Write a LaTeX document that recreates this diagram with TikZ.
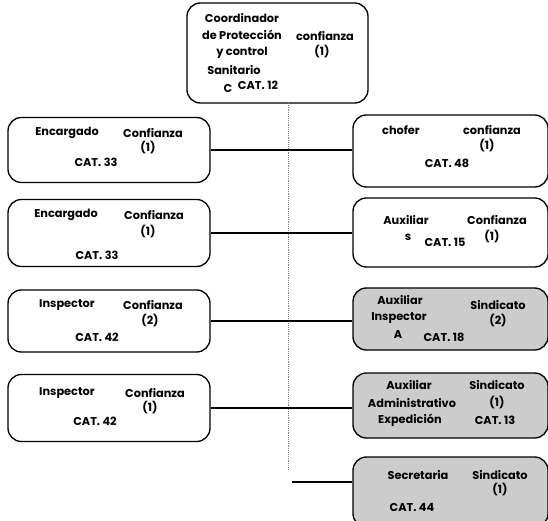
\documentclass[tikz,border=0pt]{standalone}
\usepackage{fontspec}
\setmainfont{Poppins}

\tikzset{
	puesto/.style={draw, line width=1pt, rounded corners=10pt, inner sep=0pt},
	sindical/.style={puesto, fill=black!20},
	txt/.style={font=\fontsize{8.5}{12.5}\selectfont\bfseries, inner sep=0pt, align=center},
	enlace/.style={line width=0.8pt},
	guia/.style={densely dotted, gray, thin}
}

\begin{document}
\begin{tikzpicture}[x=0.75pt, y=-0.75pt]
	\useasboundingbox (0,0) rectangle (548,520);

	% recuadros
	\node (jefe) [puesto, minimum width=135.75pt, minimum height=75pt] at (277.5,53) {};

	\node (enc1) [puesto, minimum width=151.5pt, minimum height=48.75pt] at (109,150) {};
	\node (enc2) [puesto, minimum width=151.5pt, minimum height=50.25pt] at (109,233) {};
	\node (insp1) [puesto, minimum width=151.5pt, minimum height=46.5pt] at (109,321) {};
	\node (insp2) [puesto, minimum width=151.5pt, minimum height=50.25pt] at (109,408) {};

	\node (chofer) [puesto, minimum width=146.25pt, minimum height=54pt] at (450.5,151) {};
	\node (aux) [puesto, minimum width=146.25pt, minimum height=51.75pt] at (450.5,232.5) {};
	\node (auxinsp) [sindical, minimum width=146.25pt, minimum height=46.5pt] at (450.5,319) {};
	\node (auxadm) [sindical, minimum width=146.25pt, minimum height=48.75pt] at (450.5,405.5) {};
	\node (secre) [sindical, minimum width=146.25pt, minimum height=52.5pt] at (450.5,492) {};

	% lineas
	\coordinate (eje) at (288,103);
	\coordinate (fin) at (288,470);
	\coordinate (e5) at (292,482);
	\draw[guia] (eje) -- (fin);

	\draw[enlace] (enc1.east) -- (enc1.east -| chofer.west);
	\draw[enlace] (enc2.east) -- (enc2.east -| aux.west);
	\draw[enlace] (insp1.east) -- (insp1.east -| auxinsp.west);
	\draw[enlace] (insp2.east) -- (insp2.east -| auxadm.west);
	\draw[enlace] (e5) -- (e5 -| secre.west);

	% textos
	\path[txt] (242,36) node {Coordinador\\de Protección\\y control}
		(234,70) node {Sanitario}
		(228,89) node {C}
		(258,85) node {CAT. 12}
		(325,36) node {confianza}
		(322,52) node {(1)};

	\path[txt] (67,133) node {Encargado} (153,133) node {Confianza}
		(148,148) node {(1)} (96,162) node {CAT. 33};
	\path[txt] (66,215) node {Encargado} (154,215) node {Confianza}
		(148,232) node {(1)} (97,255) node {CAT. 33};
	\path[txt] (67,305) node {Inspector} (153,305) node {Confianza}
		(150,321) node {(2)} (97,337) node {CAT. 42};
	\path[txt] (67,393) node {Inspector} (155,393) node {Confianza}
		(150,408) node {(1)} (95,421) node {CAT. 42};

	\path[txt] (401,130) node {chofer} (492,130) node {confianza}
		(487,146) node {(1)} (447,163) node {CAT. 48};
	\path[txt] (406,220) node {Auxiliar} (408,237) node {s}
		(497,220) node {Confianza} (492,237) node {(1)} (445,242) node {CAT. 15};
	\path[txt] (400,300) node {Auxiliar} (399,318) node {Inspector} (398,335) node {A}
		(498,305) node {Sindicato} (498,321) node {(2)} (444,337) node {CAT. 18};
	\path[txt] (409,385) node {Auxiliar} (412,403) node {Administrativo} (410,420) node {Expedición}
		(497,385) node {Sindicato} (497,403) node {(1)} (495,420) node {CAT. 13};
	\path[txt] (418,475) node {Secretaria} (500,475) node {Sindicato}
		(500,490) node {(1)} (412,507) node {CAT. 44};
\end{tikzpicture}
\end{document}
